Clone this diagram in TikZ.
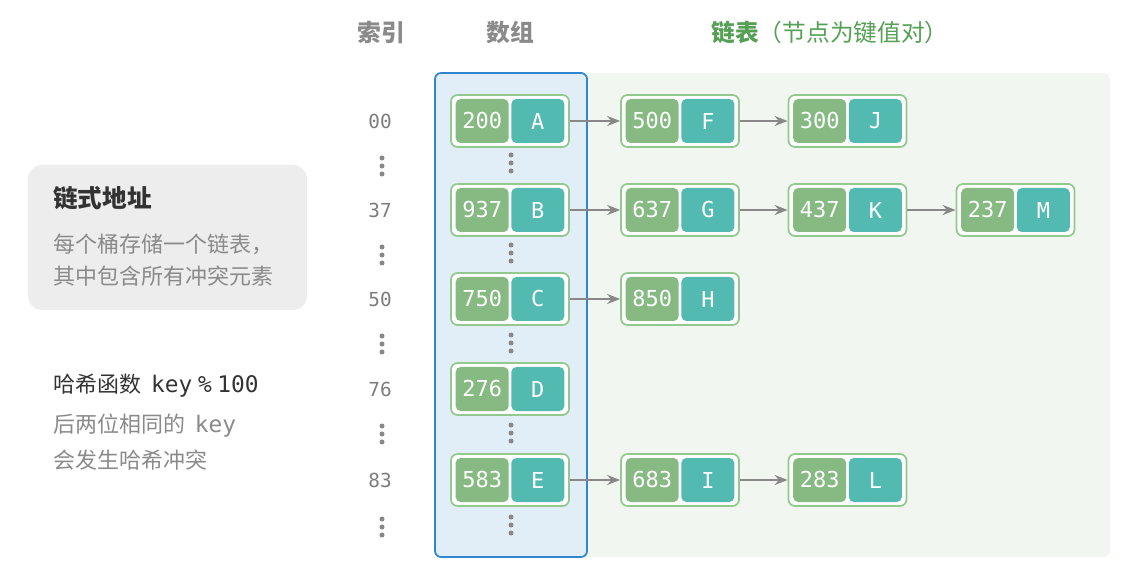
\documentclass[tikz,border=0pt]{standalone}
\usepackage{fontspec}
\setmainfont{Noto Sans CJK SC}
\newfontfamily\monofont{DejaVu Sans Mono}
\usetikzlibrary{arrows.meta,positioning}
\definecolor{keygreen}{HTML}{86BA82}
\definecolor{valteal}{HTML}{52BAB1}
\definecolor{pairedge}{HTML}{92C98E}
\definecolor{arrblue}{HTML}{2F86CF}
\definecolor{arrfill}{HTML}{E1EEF8}
\definecolor{listfill}{HTML}{F1F7F0}
\definecolor{txtgray}{HTML}{8A8A8A}
\definecolor{txtdark}{HTML}{333333}
\definecolor{headgreen}{HTML}{55A055}
\definecolor{dotgray}{HTML}{888888}

% one key-value node: name, x, y, key, value
\newcommand{\kvpair}[5]{%
  \node[pairbox] (#1) at (#2,#3) {};
  \node[keybox, left=0.02cm of #1.center] (#1-k) {#4};
  \node[valbox, right=0.02cm of #1.center] (#1-v) {#5};
}
% three vertical dots
\newcommand{\vdotsat}[2]{%
  \foreach \d in {-0.16,0,0.16} \fill[dotgray] (#1,#2+\d) circle (0.05);
}

\begin{document}
\begin{tikzpicture}[
      pairbox/.style={draw=pairedge, line width=1pt, fill=white, rounded corners=0.13cm, minimum width=2.36cm, minimum height=1.04cm},
      keybox/.style={fill=keygreen, rounded corners=0.1cm, minimum width=1.06cm, minimum height=0.88cm, inner sep=0pt, text=white, font=\monofont\fontsize{12.5}{14}\selectfont},
      valbox/.style={keybox, fill=valteal},
      arrow/.style={-{Stealth[length=0.26cm,width=0.2cm]}, line width=1.1pt, dotgray},
      idx/.style={text=txtgray!90!black, font=\monofont\fontsize{11}{12}\selectfont},
      head/.style={font=\bfseries\fontsize{13.5}{16}\selectfont, text=txtgray},
      plain/.style={anchor=west, inner sep=0pt, font=\fontsize{12.5}{15}\selectfont}
    ]
      \useasboundingbox (0,0) rectangle (22.84,-11.5);

      % backgrounds
      \fill[listfill, rounded corners=0.12cm] (11.5,-1.46) rectangle (22.2,-11.14);
      \draw[arrblue, fill=arrfill, line width=1pt, rounded corners=0.12cm] (8.7,-1.46) rectangle (11.74,-11.14);
      \fill[black!7, rounded corners=0.28cm] (0.56,-3.3) rectangle (6.14,-6.2);

      % headers
      \node[head] (hidx) at (7.62,-0.64) {索引};
      \node[head] (harr) at (10.2,-0.64) {数组};
      \node[text=headgreen, font=\fontsize{13.5}{16}\selectfont] (hlist) at (16.6,-0.64) {\textbf{链表}（节点为键值对）};

      % left notes
      \node[plain, text=txtdark, font=\bfseries\fontsize{14}{16}\selectfont] (title) at (1.06,-3.96) {链式地址};
      \node[plain, text=txtgray] (note1) at (1.06,-4.88) {每个桶存储一个链表，};
      \node[plain, text=txtgray] (note2) at (1.06,-5.52) {其中包含所有冲突元素};
      \node[plain, text=txtdark] (hash) at (1.06,-7.72) {哈希函数\ \ {\monofont\fontsize{13}{15}\selectfont key\hspace{0.25em}\%\hspace{0.25em}100}};
      \node[plain, text=txtgray] (hash1) at (1.06,-8.52) {后两位相同的\ \ {\monofont\fontsize{13}{15}\selectfont key}};
      \node[plain, text=txtgray] (hash2) at (1.06,-9.2) {会发生哈希冲突};

      % index column
      \node[idx] (i00) at (7.6,-2.42) {00};
      \node[idx] (i37) at (7.6,-4.2) {37};
      \node[idx] (i50) at (7.6,-5.98) {50};
      \node[idx] (i76) at (7.6,-7.78) {76};
      \node[idx] (i83) at (7.6,-9.6) {83};
      \foreach \y in {-3.32,-5.1,-6.88,-8.68,-10.54} {\vdotsat{7.64}{\y}}
      \foreach \y in {-3.26,-5.06,-6.86,-8.66,-10.5} {\vdotsat{10.22}{\y}}

      % buckets
      \kvpair{a}{10.2}{-2.42}{200}{A}
      \kvpair{b}{10.2}{-4.2}{937}{B}
      \kvpair{c}{10.2}{-5.98}{750}{C}
      \kvpair{d}{10.2}{-7.78}{276}{D}
      \kvpair{e}{10.2}{-9.6}{583}{E}

      % chains
      \kvpair{f}{13.6}{-2.42}{500}{F}
      \kvpair{j}{16.95}{-2.42}{300}{J}
      \kvpair{g}{13.6}{-4.2}{637}{G}
      \kvpair{k}{16.95}{-4.2}{437}{K}
      \kvpair{m}{20.31}{-4.2}{237}{M}
      \kvpair{h}{13.6}{-5.98}{850}{H}
      \kvpair{i}{13.6}{-9.6}{683}{I}
      \kvpair{l}{16.95}{-9.6}{283}{L}

      \draw[arrow] (a) -- (f);
      \draw[arrow] (f) -- (j);
      \draw[arrow] (b) -- (g);
      \draw[arrow] (g) -- (k);
      \draw[arrow] (k) -- (m);
      \draw[arrow] (c) -- (h);
      \draw[arrow] (e) -- (i);
      \draw[arrow] (i) -- (l);
    \end{tikzpicture}
\end{document}
